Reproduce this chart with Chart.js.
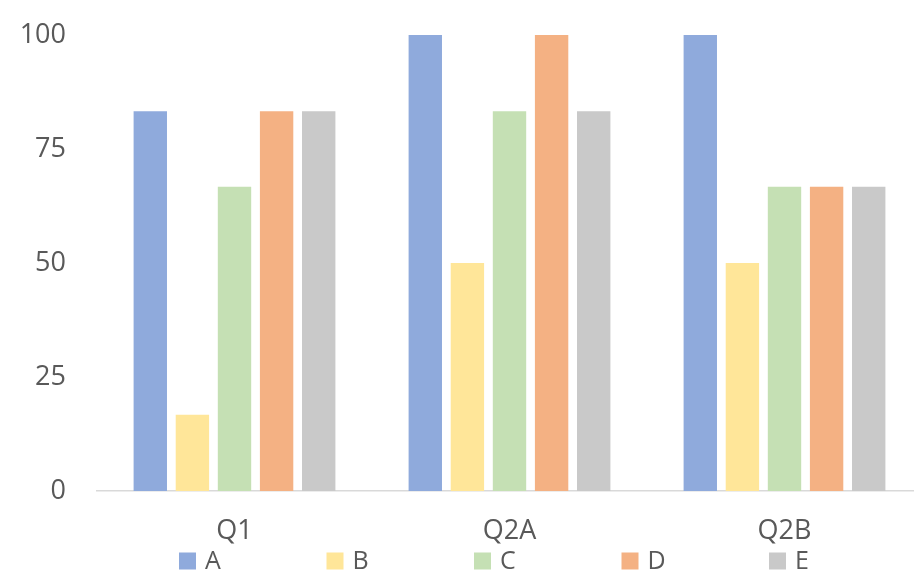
<!DOCTYPE html>
<html>
<head>
<meta charset="utf-8">
<title>Chart</title>
<script src="https://cdn.jsdelivr.net/npm/chart.js@4"></script>
<style>
  html, body { margin: 0; padding: 0; background: #fff; overflow: hidden; }
  #wrap { width: 914px; height: 577px; overflow: hidden; }
</style>
</head>
<body>
<div id="wrap">
  <canvas id="barChart" width="922" height="577"></canvas>
</div>
<script>
const categories = ['Q1', 'Q2A', 'Q2B'];
const seriesNames = ['A', 'B', 'C', 'D', 'E'];
const seriesA = [83.3, 100, 100];
const seriesB = [16.7, 50, 50];
const seriesC = [66.7, 83.3, 66.7];
const seriesD = [83.3, 100, 66.7];
const seriesE = [83.3, 83.3, 66.7];
const yTicks = [0, 25, 50, 75, 100];

const colors = ['#8faadc', '#ffe699', '#c5e0b4', '#f4b183', '#c9c9c9'];
const textColor = '#595959';
const fontFamily = '"Open Sans", "Noto Sans", sans-serif';

// legend drawn by hand so the wide spacing matches the reference
const spacedLegend = {
  id: 'spacedLegend',
  afterDraw(chart) {
    const ctx = chart.ctx;
    const area = chart.chartArea;
    const startX = area.left + 82;
    const step = 147.5;
    const midY = 561;
    ctx.save();
    ctx.font = '25px ' + fontFamily;
    ctx.textBaseline = 'middle';
    ctx.textAlign = 'left';
    chart.data.datasets.forEach((ds, i) => {
      const x = startX + i * step;
      ctx.fillStyle = ds.backgroundColor;
      ctx.fillRect(x, midY - 8.5, 17, 17);
      ctx.fillStyle = textColor;
      ctx.fillText(ds.label, x + 26, midY + 1);
    });
    ctx.restore();
  }
};

function drawChart() {
  const ctx = document.getElementById('barChart').getContext('2d');
  const values = [seriesA, seriesB, seriesC, seriesD, seriesE];

  new Chart(ctx, {
    type: 'bar',
    data: {
      labels: categories,
      datasets: seriesNames.map((name, i) => ({
        label: name,
        data: values[i],
        backgroundColor: colors[i],
        borderWidth: 0,
        categoryPercentage: 0.7655,
        barPercentage: 0.793
      }))
    },
    options: {
      responsive: false,
      animation: false,
      devicePixelRatio: 1,
      layout: {
        padding: { left: 20, right: 0, top: 35, bottom: 32 }
      },
      plugins: {
        legend: { display: false },
        tooltip: { enabled: false }
      },
      scales: {
        x: {
          grid: { display: false, drawTicks: false },
          border: { display: true, color: '#d9d9d9', width: 1.5 },
          ticks: {
            color: textColor,
            padding: 24,
            font: { family: fontFamily, size: 27 }
          },
          afterFit: (scale) => {
            scale.height = 54;
            scale.paddingLeft = 0;
            scale.paddingRight = 0;
          }
        },
        y: {
          min: 0,
          max: 100,
          afterBuildTicks: (scale) => {
            scale.ticks = yTicks.map(v => ({ value: v }));
          },
          grid: { display: false, drawTicks: false },
          border: { display: false },
          ticks: {
            color: textColor,
            padding: 31,
            font: { family: fontFamily, size: 27 }
          },
          afterFit: (scale) => {
            scale.width = 77;
            scale.paddingTop = 0;
            scale.paddingBottom = 0;
          }
        }
      }
    },
    plugins: [spacedLegend]
  });
}

drawChart();
</script>
</body>
</html>
